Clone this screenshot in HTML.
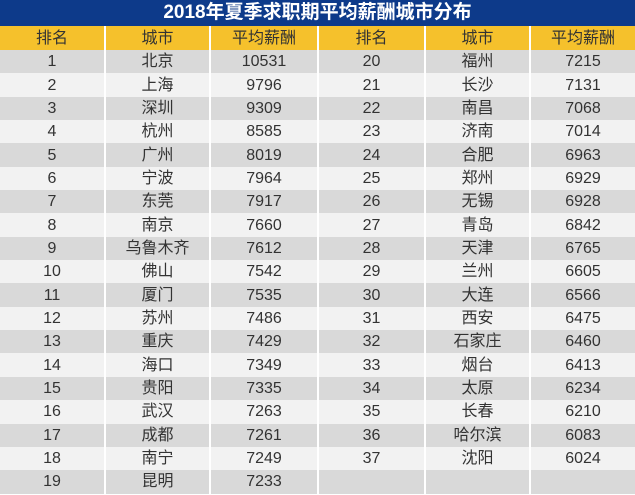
<!DOCTYPE html>
<html><head><meta charset="utf-8"><style>
body{margin:0;width:635px;height:495px;overflow:hidden;background:#fff;font-family:"Liberation Sans","Noto Sans CJK SC",sans-serif;}
.title{position:absolute;left:0;top:0;width:635px;height:26px;background:#0d3a8a;color:#fff;font-weight:bold;font-size:19px;line-height:26px;text-align:center;}
table{position:absolute;left:0;top:26px;border-collapse:collapse;table-layout:fixed;width:635px;}
td{height:23.35px;padding:0;text-align:center;font-size:16px;color:#333;border-left:2px solid #fff;line-height:23px;}
td:first-child{border-left:none;}
tr.h td{background:#f5c12c;font-size:16px;height:24px;}
tr.g td{background:#d9d9d9;}
tr.l td{background:#f2f2f2;}
</style></head><body>
<div class="title">2018年夏季求职期平均薪酬城市分布</div>
<table>
<colgroup><col style="width:105px"><col style="width:105px"><col style="width:108px"><col style="width:107px"><col style="width:105px"><col style="width:105px"></colgroup>
<tr class="h"><td>排名</td><td>城市</td><td>平均薪酬</td><td>排名</td><td>城市</td><td>平均薪酬</td></tr>
<tr class="g"><td>1</td><td>北京</td><td>10531</td><td>20</td><td>福州</td><td>7215</td></tr>
<tr class="l"><td>2</td><td>上海</td><td>9796</td><td>21</td><td>长沙</td><td>7131</td></tr>
<tr class="g"><td>3</td><td>深圳</td><td>9309</td><td>22</td><td>南昌</td><td>7068</td></tr>
<tr class="l"><td>4</td><td>杭州</td><td>8585</td><td>23</td><td>济南</td><td>7014</td></tr>
<tr class="g"><td>5</td><td>广州</td><td>8019</td><td>24</td><td>合肥</td><td>6963</td></tr>
<tr class="l"><td>6</td><td>宁波</td><td>7964</td><td>25</td><td>郑州</td><td>6929</td></tr>
<tr class="g"><td>7</td><td>东莞</td><td>7917</td><td>26</td><td>无锡</td><td>6928</td></tr>
<tr class="l"><td>8</td><td>南京</td><td>7660</td><td>27</td><td>青岛</td><td>6842</td></tr>
<tr class="g"><td>9</td><td>乌鲁木齐</td><td>7612</td><td>28</td><td>天津</td><td>6765</td></tr>
<tr class="l"><td>10</td><td>佛山</td><td>7542</td><td>29</td><td>兰州</td><td>6605</td></tr>
<tr class="g"><td>11</td><td>厦门</td><td>7535</td><td>30</td><td>大连</td><td>6566</td></tr>
<tr class="l"><td>12</td><td>苏州</td><td>7486</td><td>31</td><td>西安</td><td>6475</td></tr>
<tr class="g"><td>13</td><td>重庆</td><td>7429</td><td>32</td><td>石家庄</td><td>6460</td></tr>
<tr class="l"><td>14</td><td>海口</td><td>7349</td><td>33</td><td>烟台</td><td>6413</td></tr>
<tr class="g"><td>15</td><td>贵阳</td><td>7335</td><td>34</td><td>太原</td><td>6234</td></tr>
<tr class="l"><td>16</td><td>武汉</td><td>7263</td><td>35</td><td>长春</td><td>6210</td></tr>
<tr class="g"><td>17</td><td>成都</td><td>7261</td><td>36</td><td>哈尔滨</td><td>6083</td></tr>
<tr class="l"><td>18</td><td>南宁</td><td>7249</td><td>37</td><td>沈阳</td><td>6024</td></tr>
<tr class="g"><td>19</td><td>昆明</td><td>7233</td><td></td><td></td><td></td></tr>
</table>
</body></html>
